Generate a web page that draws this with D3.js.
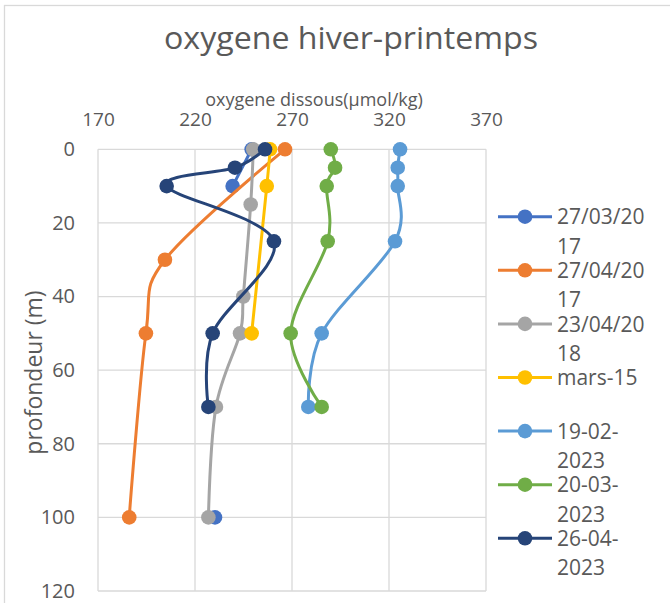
<!DOCTYPE html>
<html>
<head>
<meta charset="utf-8">
<script src="https://cdn.jsdelivr.net/npm/d3@7"></script>
<style>
  html, body { margin: 0; padding: 0; background: #fff; }
  svg { display: block; font-family: "Open Sans", "Noto Sans", sans-serif; }
</style>
</head>
<body>
<svg id="chart" width="670" height="603"></svg>
<script>
// Dissolved oxygen profiles (µmol/kg) against depth (m), one array pair per survey
const seriesNames = ["27/03/2017", "27/04/2017", "23/04/2018", "mars-15", "19-02-2023", "20-03-2023", "26-04-2023"];

const depth_27_03_2017 = [0, 10, 50, 100];
const oxy_27_03_2017   = [249.2, 239.4, null, 230.3];

const depth_27_04_2017 = [0, 30, 50, 100];
const oxy_27_04_2017   = [266.4, 204.5, 194.7, 186.1];

const depth_23_04_2018 = [0, 15, 40, 50, 70, 100];
const oxy_23_04_2018   = [250.0, 248.7, 244.9, 243.2, 230.8, 226.9];

const depth_mars_15 = [0, 10, 50];
const oxy_mars_15   = [258.7, 257.0, 249.2];

const depth_19_02_2023 = [0, 5, 10, 25, 50, 70];
const oxy_19_02_2023   = [325.7, 324.5, 324.5, 323.1, 285.3, 278.4];

const depth_20_03_2023 = [0, 5, 10, 25, 50, 70];
const oxy_20_03_2023   = [290.0, 292.2, 287.9, 288.4, 269.3, 285.3];

const depth_26_04_2023 = [0, 5, 10, 25, 50, 70];
const oxy_26_04_2023   = [256.1, 240.6, 205.4, 260.7, 229.1, 226.9];

const xTicks = [170, 220, 270, 320, 370];
const yTicks = [0, 20, 40, 60, 80, 100, 120];

const seriesDepths = [depth_27_03_2017, depth_27_04_2017, depth_23_04_2018, depth_mars_15,
                      depth_19_02_2023, depth_20_03_2023, depth_26_04_2023];
const seriesOxy = [oxy_27_03_2017, oxy_27_04_2017, oxy_23_04_2018, oxy_mars_15,
                   oxy_19_02_2023, oxy_20_03_2023, oxy_26_04_2023];
const colors = ["#4472C4", "#ED7D31", "#A5A5A5", "#FFC000", "#5B9BD5", "#70AD47", "#264478"];

const series = seriesNames.map((name, i) => ({
  name,
  color: colors[i],
  points: seriesDepths[i].map((d, j) => ({ depth: d, oxy: seriesOxy[i][j] }))
}));

const svg = d3.select("#chart");
const textColor = "#595959";
const gridColor = "#d9d9d9";

// chart frame
svg.append("rect").attr("x", 4.5).attr("y", 5.5).attr("width", 700).attr("height", 700)
  .attr("fill", "#fff").attr("stroke", gridColor).attr("stroke-width", 1.3);

const plot = { left: 98, right: 486, top: 149.3, bottom: 591 };
const x = d3.scaleLinear().domain([170, 370]).range([plot.left, plot.right]);
const y = d3.scaleLinear().domain([0, 120]).range([plot.top, plot.bottom]);

// grid
const grid = svg.append("g").attr("stroke", gridColor).attr("stroke-width", 1.3);
grid.selectAll("line.v").data(xTicks).join("line").attr("class", "v")
  .attr("x1", d => x(d)).attr("x2", d => x(d)).attr("y1", plot.top).attr("y2", plot.bottom);
grid.selectAll("line.h").data(yTicks).join("line").attr("class", "h")
  .attr("x1", plot.left).attr("x2", plot.right).attr("y1", d => y(d)).attr("y2", d => y(d));

// axes (labels only)
const xAxis = svg.append("g").attr("transform", `translate(0,${plot.top})`)
  .call(d3.axisTop(x).tickValues(xTicks).tickSize(0).tickPadding(23.6).tickFormat(d3.format("d")));
xAxis.select(".domain").remove();
xAxis.selectAll("text").attr("fill", textColor).style("font-size", "19px")
  .style("font-family", "'Open Sans', sans-serif");

const yAxis = svg.append("g").attr("transform", `translate(${plot.left},0)`)
  .call(d3.axisLeft(y).tickValues(yTicks).tickSize(0).tickPadding(23).tickFormat(d3.format("d")));
yAxis.select(".domain").remove();
yAxis.selectAll("text").attr("fill", textColor).style("font-size", "20px")
  .style("font-family", "'Open Sans', sans-serif");

// titles
svg.append("text").attr("x", 351).attr("y", 48.5).attr("text-anchor", "middle")
  .attr("fill", textColor).style("font-size", "30.5px")
  .attr("textLength", 374).attr("lengthAdjust", "spacingAndGlyphs")
  .text("oxygene hiver-printemps");

svg.append("text").attr("x", 314).attr("y", 105.5).attr("text-anchor", "middle")
  .attr("fill", textColor).style("font-size", "18px")
  .text("oxygene dissous(µmol/kg)");

svg.append("text").attr("transform", "translate(42,372.5) rotate(-90)")
  .attr("text-anchor", "middle").attr("fill", textColor).style("font-size", "23px")
  .text("profondeur (m)");

// profiles
const line = d3.line()
  .defined(d => d.oxy != null)
  .x(d => x(d.oxy))
  .y(d => y(d.depth))
  .curve(d3.curveCatmullRom.alpha(0));

const markerR = 7.3;
series.forEach(s => {
  const g = svg.append("g");
  g.append("path").attr("d", line(s.points)).attr("fill", "none")
    .attr("stroke", s.color).attr("stroke-width", 3).attr("stroke-linejoin", "round")
    .attr("stroke-linecap", "round");
  g.selectAll("circle").data(s.points.filter(p => p.oxy != null)).join("circle")
    .attr("cx", d => x(d.oxy)).attr("cy", d => y(d.depth)).attr("r", markerR)
    .attr("fill", s.color);
});

// legend
const legendTop = 216.7, legendStep = 53.6, legendTextX = 557, maxTextW = 95, lineGap = 29.5;
const legend = svg.append("g");
series.forEach((s, i) => {
  const cy = legendTop + i * legendStep;
  const g = legend.append("g");
  g.append("line").attr("x1", 498).attr("x2", 552).attr("y1", cy).attr("y2", cy)
    .attr("stroke", s.color).attr("stroke-width", 3);
  g.append("circle").attr("cx", 525).attr("cy", cy).attr("r", markerR).attr("fill", s.color);

  const t = g.append("text").attr("x", legendTextX).attr("y", cy + 7.6)
    .attr("fill", textColor).style("font-size", "21px");
  // wrap the entry name into lines that fit the legend column
  const lines = [];
  let rest = s.name;
  while (rest.length) {
    t.text(rest);
    if (t.node().getComputedTextLength() <= maxTextW) { lines.push(rest); break; }
    let cut = rest.length - 1;
    while (cut > 1) {
      t.text(rest.slice(0, cut));
      if (t.node().getComputedTextLength() <= maxTextW) break;
      cut--;
    }
    const hyphen = rest.slice(0, cut).lastIndexOf("-");
    if (hyphen > 0) cut = hyphen + 1;
    lines.push(rest.slice(0, cut));
    rest = rest.slice(cut);
  }
  t.text(null);
  lines.forEach((ln, k) => {
    t.append("tspan").attr("x", legendTextX).attr("dy", k === 0 ? 0 : lineGap).text(ln);
  });
});
</script>
</body>
</html>
